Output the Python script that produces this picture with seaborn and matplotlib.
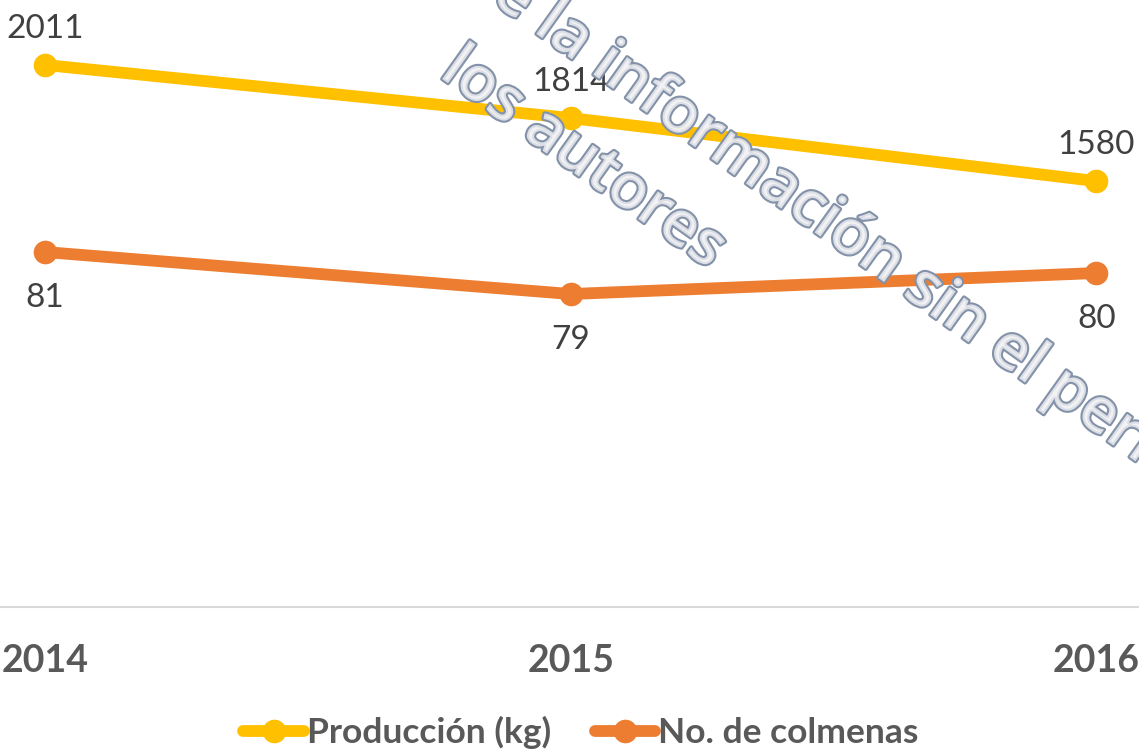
import matplotlib
matplotlib.use('Agg')
import matplotlib.pyplot as plt
import matplotlib.patheffects as pe
from matplotlib.lines import Line2D
import seaborn as sns

# datos
anios = [2014, 2015, 2016]
etiquetas = ['2014', '2015', '2016']
produccion = [2011, 1814, 1580]
colmenas = [81, 79, 80]

amarillo = '#FFC000'
naranja = '#ED7D31'
gris = '#595959'

sns.set_theme(style='white')
plt.rcParams['font.family'] = ['Lato', 'DejaVu Sans']

fig = plt.figure(figsize=(11.39, 7.54), dpi=100)
ax = fig.add_axes([0, 0.195, 1, 0.805])
ax2 = ax.twinx()

sns.lineplot(x=anios, y=produccion, ax=ax, color=amarillo, linewidth=8.5,
             marker='o', markersize=17, markeredgewidth=0)
sns.lineplot(x=anios, y=colmenas, ax=ax2, color=naranja, linewidth=8.5,
             marker='o', markersize=17, markeredgewidth=0)

ax.set_ylim(0, 2252)
ax2.set_ylim(64.1, 93)
ax.set_xlim(2014 - 0.0856, 2016 + 0.0813)

for x, v in zip(anios, produccion):
    ax.annotate(str(v), (x, v), xytext=(0, 26), textcoords='offset points',
                ha='center', va='center', fontsize=24, color='#404040')
for x, v in zip(anios, colmenas):
    ax2.annotate(str(v), (x, v), xytext=(0, -33), textcoords='offset points',
                 ha='center', va='center', fontsize=24, color='#404040')

ax.set_xticks(anios)
ax.set_xticklabels(etiquetas, fontsize=27, fontweight='bold', color=gris)
ax.tick_params(axis='x', length=0, pad=27)
ax.set_yticks([])
ax2.set_yticks([])
for a in (ax, ax2):
    for s in ('top', 'left', 'right', 'bottom'):
        a.spines[s].set_visible(False)
ax.spines['bottom'].set_visible(True)
ax.spines['bottom'].set_color('#D9D9D9')
ax.spines['bottom'].set_linewidth(1.5)

# marca de agua
efecto = [pe.Stroke(linewidth=3, foreground='#8392A8'), pe.Normal()]
relleno = (0.95, 0.95, 0.96, 0.8)
fig.text(458 / 1139, 1 + 22 / 754, 'de la información sin el permiso',
         rotation=-35.5, rotation_mode='anchor', ha='left', va='baseline',
         fontsize=45, fontweight='semibold', color=relleno, path_effects=efecto,
         family=['Open Sans', 'DejaVu Sans'], zorder=10)
fig.text(438 / 1139, 1 - 76 / 754, 'los autores',
         rotation=-35.5, rotation_mode='anchor', ha='left', va='baseline',
         fontsize=45, fontweight='semibold', color=relleno, path_effects=efecto,
         family=['Open Sans', 'DejaVu Sans'], zorder=10)

handles = [Line2D([], [], color=amarillo, linewidth=8.5, marker='o', markersize=17,
                  markeredgewidth=0),
           Line2D([], [], color=naranja, linewidth=8.5, marker='o', markersize=17,
                  markeredgewidth=0)]
leg = fig.legend(handles, ['Producción (kg)', 'No. de colmenas'], loc='center',
                 bbox_to_anchor=(0.51, 0.028), ncol=2, frameon=False,
                 handlelength=1.7, handletextpad=0.08, columnspacing=1.25,
                 prop={'size': 25.5, 'weight': 'bold'})
for t in leg.get_texts():
    t.set_color(gris)

fig.savefig('out.png', dpi=100)
